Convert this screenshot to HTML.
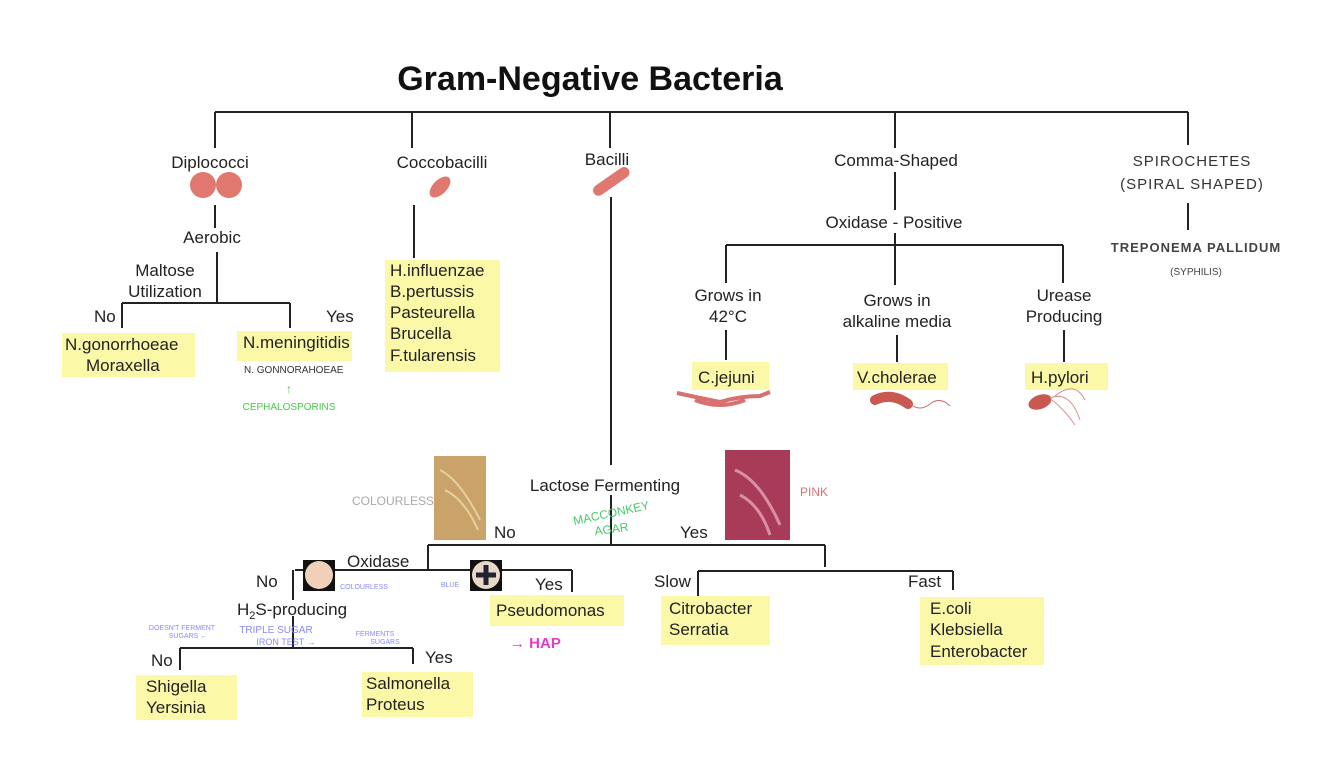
<!DOCTYPE html>
<html><head><meta charset="utf-8"><style>
html,body{margin:0;padding:0;background:#fff;}
svg{display:block;}
text{font-family:"Liberation Sans",sans-serif;}
</style></head><body>
<svg width="1334" height="781" viewBox="0 0 1334 781" xmlns="http://www.w3.org/2000/svg">
<rect width="1334" height="781" fill="#fff"/>
<text x="590" y="90" font-size="34" font-weight="bold" text-anchor="middle" fill="#111">Gram-Negative Bacteria</text>
<g stroke="#222" stroke-width="2" fill="none">
<path d="M215 112H1188M215 112V148M412 112V148M610 112V148M895 112V148M1188 112V145"/>
<path d="M215 205V228M217 252V302M122 303H290M122 303V328M290 303V328"/>
<path d="M414 205V258"/>
<path d="M611 197V465M611 495V545M428 545H825M428 545V570M825 545V567"/>
<path d="M295 570H572M293 570V600M572 570V592"/>
<path d="M293 616V648M180 648H413M180 648V670M413 648V664"/>
<path d="M698 571H953M698 571V596M953 571V590"/>
<path d="M895 172V210M895 233V285M726 245H1063M726 245V283M1063 245V283"/>
<path d="M726 330V360M897 335V362M1064 330V362"/>
<path d="M1188 203V230"/>
</g>
<g fill="#fbf8a8">
<rect x="62" y="333" width="133" height="44"/>
<rect x="237" y="331" width="115" height="30"/>
<rect x="385" y="260" width="115" height="112"/>
<rect x="490" y="595" width="134" height="31"/>
<rect x="661" y="596" width="109" height="49"/>
<rect x="920" y="597" width="124" height="68"/>
<rect x="136" y="675" width="101" height="45"/>
<rect x="362" y="672" width="111" height="45"/>
<rect x="692" y="362" width="77" height="28"/>
<rect x="853" y="363" width="95" height="27"/>
<rect x="1025" y="363" width="83" height="27"/>
</g>
<circle cx="203" cy="185" r="13" fill="#e07870"/><circle cx="229" cy="185" r="13" fill="#e07870"/>
<ellipse cx="440" cy="187" rx="13" ry="7" fill="#e07870" transform="rotate(-45 440 187)"/>
<rect x="590" y="176" width="42" height="11" rx="5.5" fill="#e07870" transform="rotate(-35 611 181)"/>
<path d="M677 393 Q700 398 720 402 Q740 396 760 396 L770 392 M695 400 Q720 410 745 400" stroke="#d87070" stroke-width="4" fill="none"/>
<path d="M875 400 Q892 392 908 404" stroke="#c85850" stroke-width="10" fill="none" stroke-linecap="round"/>
<path d="M910 404 Q920 412 930 404 T950 406" stroke="#d07070" stroke-width="1" fill="none"/>
<ellipse cx="1040" cy="402" rx="12" ry="7" fill="#c85850" transform="rotate(-20 1040 402)"/>
<path d="M1050 398 Q1070 390 1080 420 M1052 400 Q1065 410 1075 425 M1055 396 Q1075 380 1085 400" stroke="#d89090" stroke-width="1" fill="none"/>
<rect x="434" y="456" width="52" height="84" fill="#c9a36a"/>
<path d="M440 470 Q460 480 480 520 M445 490 Q465 500 478 530" stroke="#e6d0a0" stroke-width="2" fill="none"/>
<rect x="725" y="450" width="65" height="90" fill="#a83c58"/>
<path d="M735 470 Q760 480 780 525 M740 495 Q760 505 770 535" stroke="#d890a8" stroke-width="3" fill="none"/>
<rect x="303" y="560" width="32" height="31" fill="#111"/><circle cx="319" cy="575" r="14" fill="#f0d0b8"/>
<rect x="470" y="560" width="32" height="31" fill="#111"/><circle cx="486" cy="575" r="14" fill="#e8d8c8"/>
<path d="M486 565V585M476 575H496" stroke="#223" stroke-width="5"/>
<g font-size="17" fill="#222">
<text x="210" y="168" text-anchor="middle">Diplococci</text>
<text x="212" y="243" text-anchor="middle">Aerobic</text>
<text x="165" y="276" text-anchor="middle">Maltose</text>
<text x="165" y="297" text-anchor="middle">Utilization</text>
<text x="94" y="322">No</text>
<text x="326" y="322">Yes</text>
<text x="65" y="350">N.gonorrhoeae</text>
<text x="86" y="371">Moraxella</text>
<text x="243" y="348">N.meningitidis</text>
<text x="442" y="168" text-anchor="middle">Coccobacilli</text>
<text x="390" y="276">H.influenzae</text>
<text x="390" y="297">B.pertussis</text>
<text x="390" y="318">Pasteurella</text>
<text x="390" y="339">Brucella</text>
<text x="390" y="361">F.tularensis</text>
<text x="607" y="165" text-anchor="middle">Bacilli</text>
<text x="896" y="166" text-anchor="middle">Comma-Shaped</text>
<text x="894" y="228" text-anchor="middle">Oxidase - Positive</text>
<text x="728" y="301" text-anchor="middle">Grows in</text>
<text x="728" y="322" text-anchor="middle">42°C</text>
<text x="897" y="306" text-anchor="middle">Grows in</text>
<text x="897" y="327" text-anchor="middle">alkaline media</text>
<text x="1064" y="301" text-anchor="middle">Urease</text>
<text x="1064" y="322" text-anchor="middle">Producing</text>
<text x="698" y="383">C.jejuni</text>
<text x="857" y="383">V.cholerae</text>
<text x="1031" y="383">H.pylori</text>
<text x="605" y="491" text-anchor="middle">Lactose Fermenting</text>
<text x="494" y="538">No</text>
<text x="680" y="538">Yes</text>
<text x="347" y="567">Oxidase</text>
<text x="256" y="587">No</text>
<text x="535" y="590">Yes</text>
<text x="237" y="615">H<tspan font-size="11" dy="4">2</tspan><tspan dy="-4">S-producing</tspan></text>
<text x="496" y="616">Pseudomonas</text>
<text x="654" y="587">Slow</text>
<text x="908" y="587">Fast</text>
<text x="669" y="614">Citrobacter</text>
<text x="669" y="635">Serratia</text>
<text x="930" y="614">E.coli</text>
<text x="930" y="635">Klebsiella</text>
<text x="930" y="657">Enterobacter</text>
<text x="151" y="666">No</text>
<text x="425" y="663">Yes</text>
<text x="146" y="692">Shigella</text>
<text x="146" y="713">Yersinia</text>
<text x="366" y="689">Salmonella</text>
<text x="366" y="710">Proteus</text>
</g>
<text x="1192" y="166" font-size="15" text-anchor="middle" fill="#333" letter-spacing="1">SPIROCHETES</text>
<text x="1192" y="189" font-size="15" text-anchor="middle" fill="#333" letter-spacing="1">(SPIRAL  SHAPED)</text>
<text x="1196" y="252" font-size="13" font-weight="bold" text-anchor="middle" fill="#444" letter-spacing="1">TREPONEMA  PALLIDUM</text>
<text x="1196" y="275" font-size="10" text-anchor="middle" fill="#444">(SYPHILIS)</text>
<text x="244" y="373" font-size="10" fill="#333">N. GONNORAHOEAE</text>
<text x="289" y="393" font-size="12" fill="#4c4" text-anchor="middle">↑</text>
<text x="289" y="410" font-size="10" fill="#4c4" text-anchor="middle">CEPHALOSPORINS</text>
<text x="393" y="505" font-size="12" fill="#aaa" text-anchor="middle">COLOURLESS</text>
<text x="800" y="496" font-size="12" fill="#e07070">PINK</text>
<text x="612" y="517" font-size="12" fill="#4c6" text-anchor="middle" transform="rotate(-12 612 517)">MACCONKEY</text>
<text x="612" y="533" font-size="12" fill="#4c6" text-anchor="middle" transform="rotate(-8 612 533)">AGAR</text>
<text x="364" y="589" font-size="7" fill="#88f" text-anchor="middle">COLOURLESS</text>
<text x="450" y="587" font-size="7" fill="#88f" text-anchor="middle">BLUE</text>
<text x="182" y="630" font-size="7" fill="#88f" text-anchor="middle">DOESN'T FERMENT</text>
<text x="188" y="638" font-size="7" fill="#88f" text-anchor="middle">SUGARS  ←</text>
<text x="276" y="633" font-size="10" fill="#88f" text-anchor="middle">TRIPLE SUGAR</text>
<text x="286" y="645" font-size="9" fill="#88f" text-anchor="middle">IRON  TEST  →</text>
<text x="375" y="636" font-size="7" fill="#88f" text-anchor="middle">FERMENTS</text>
<text x="385" y="644" font-size="7" fill="#88f" text-anchor="middle">SUGARS</text>
<text x="510" y="648" font-size="15" font-weight="bold" fill="#e040c0">→ HAP</text>
</svg>
</body></html>
